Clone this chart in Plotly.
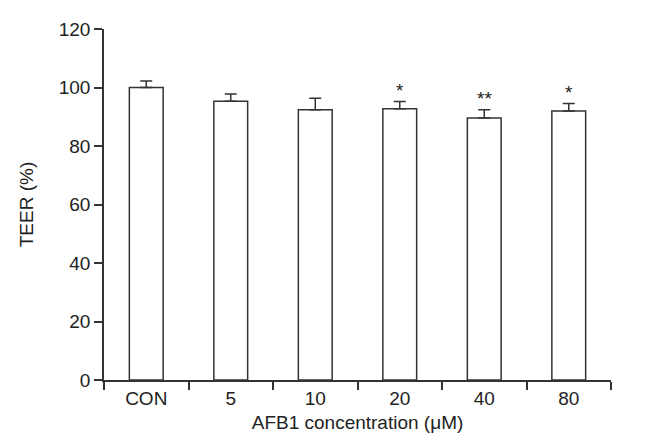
import plotly.graph_objects as go

categories = ["CON", "5", "10", "20", "40", "80"]
teer_mean = [100.0, 95.3, 92.4, 92.7, 89.6, 92.0]
teer_sd = [2.2, 2.5, 3.9, 2.5, 2.8, 2.5]
significance = ["", "", "", "*", "**", "*"]

line_col = "#333333"
text_col = "#222222"
font_family = "Liberation Sans, Arial, sans-serif"
tick_size = 19
title_size = 19

fig = go.Figure()
fig.add_trace(go.Bar(
    x=categories, y=teer_mean, width=0.4,
    marker=dict(color="white", line=dict(color=line_col, width=1.5)),
    error_y=dict(type="data", symmetric=False, array=teer_sd,
                 arrayminus=[0] * len(teer_sd), color=line_col,
                 thickness=1.5, width=6),
    showlegend=False,
))

for i, (m, s, sig) in enumerate(zip(teer_mean, teer_sd, significance)):
    if sig:
        fig.add_annotation(x=i, xref="x", y=m + s, yref="y", text=sig,
                           showarrow=False, yanchor="bottom", yshift=-1,
                           font=dict(size=19, color=text_col, family=font_family))

fig.update_layout(
    width=668, height=442,
    margin=dict(l=96, r=65, t=21, b=70),
    paper_bgcolor="white", plot_bgcolor="white",
    font=dict(family=font_family, size=tick_size, color=text_col),
    bargap=0.6,
)
fig.update_xaxes(
    type="category", range=[-0.5, 5.5], tickson="boundaries",
    showline=True, linecolor=line_col, linewidth=1.5,
    ticks="outside", ticklen=8, tickwidth=1.5, tickcolor=line_col,
    tickfont=dict(size=tick_size, family=font_family, color=text_col),
    showgrid=False, zeroline=False,
    title=dict(text="AFB1 concentration (μM)", standoff=8,
               font=dict(size=title_size, family=font_family, color=text_col)),
)
fig.update_yaxes(
    range=[0, 120], tickvals=[0, 20, 40, 60, 80, 100, 120],
    showline=True, linecolor=line_col, linewidth=1.5,
    ticks="outside", ticklen=8, tickwidth=1.5, tickcolor=line_col,
    tickfont=dict(size=tick_size, family=font_family, color=text_col),
    showgrid=False, zeroline=False,
    title=dict(text="TEER (%)", standoff=20,
               font=dict(size=title_size, family=font_family, color=text_col)),
)

fig.write_html("out.html")
